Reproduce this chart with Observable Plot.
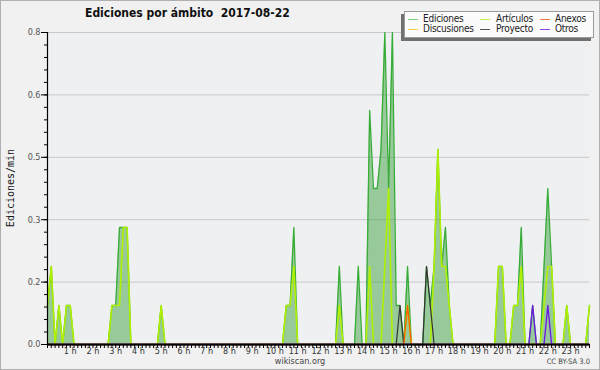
<!DOCTYPE html>
<html><head><meta charset="utf-8">
<script src="https://cdn.jsdelivr.net/npm/d3@7"></script>
<script src="https://cdn.jsdelivr.net/npm/@observablehq/plot@0.6"></script>
<style>
html,body{margin:0;padding:0;background:#f1f1f1;}
#wrap{position:relative;width:600px;height:370px;overflow:hidden;font-family:"DejaVu Sans Condensed","DejaVu Sans",sans-serif;font-stretch:condensed;}
#chart{position:absolute;left:0;top:0;}
#border{position:absolute;left:0;top:0;width:598px;height:368px;border:1px solid #b0b0b0;pointer-events:none;}
#title{position:absolute;left:85px;top:6px;font-size:12px;font-weight:bold;color:#111;white-space:pre;}
#ylab{position:absolute;left:10px;top:188px;font-family:"DejaVu Sans Mono",monospace;font-stretch:normal;font-size:10px;color:#111;transform:translate(-50%,-50%) rotate(-90deg);white-space:nowrap;}
#legend{position:absolute;left:404px;top:11px;width:188px;height:25px;background:#fbfbfb;border:1px solid #9a9a9a;box-shadow:-3px 3px 0 #707070;}
.li{position:absolute;font-size:10px;letter-spacing:-0.25px;color:#222;white-space:nowrap;line-height:10px;}
.ls{position:absolute;height:1px;width:10px;}
#site{position:absolute;left:300px;top:356px;transform:translateX(-50%);font-size:9px;color:#444;}
#lic{position:absolute;right:10px;top:357px;font-size:7.5px;color:#444;}
</style></head>
<body>
<div id="wrap">
  <div id="chart"></div>
  <div id="title"></div>
  <div id="ylab"></div>
  <div id="legend"></div>
  <div id="site"></div>
  <div id="lic"></div>
  <div id="border"></div>
</div>
<script>
// ---- data: edits per minute, 10-minute bins (144 bins, 00:00 .. 23:50) ----
const titleText = "Ediciones por ámbito  2017-08-22";
const yLabel = "Ediciones/min";
const siteText = "wikiscan.org";
const licText = "CC BY-SA 3.0";

const ediciones = [
  0.1,0.2,0,0.1,0,0.1,   0.1,0,0,0,0,0,
  0,0,0,0,0,0.1,         0.1,0.3,0.3,0.3,0,0,
  0,0,0,0,0,0,           0.1,0,0,0,0,0,
  0,0,0,0,0,0,           0,0,0,0,0,0,
  0,0,0,0,0,0,           0,0,0,0,0,0,
  0,0,0,0.1,0.1,0.3,     0,0,0,0,0,0,
  0,0,0,0,0,0.2,         0,0,0,0,0.2,0,
  0,0.6,0.4,0.4,0.5,0.8, 0.4,0.8,0.1,0.1,0,0.2,
  0,0,0,0,0.2,0.1,       0.2,0.5,0.2,0.3,0.1,0,
  0,0,0,0,0,0,           0,0,0,0,0,0.2,
  0.2,0,0,0.1,0.1,0.3,   0,0,0.1,0,0,0.2,
  0.4,0.2,0,0,0,0.1,     0,0,0,0,0,0.1
];
const articulos = [
  0.1,0.2,0,0.1,0,0.1,   0.1,0,0,0,0,0,
  0,0,0,0,0,0.1,         0.1,0.1,0.3,0.3,0,0,
  0,0,0,0,0,0,           0.1,0,0,0,0,0,
  0,0,0,0,0,0,           0,0,0,0,0,0,
  0,0,0,0,0,0,           0,0,0,0,0,0,
  0,0,0,0.1,0.1,0.2,     0,0,0,0,0,0,
  0,0,0,0,0,0.1,         0,0,0,0,0,0,
  0,0.2,0,0,0,0.2,       0.4,0,0,0,0,0.1,
  0,0,0,0,0,0,           0.2,0.5,0.2,0.2,0.1,0,
  0,0,0,0,0,0,           0,0,0,0,0,0.2,
  0.2,0,0,0.1,0.1,0.2,   0,0,0,0,0,0.1,
  0.2,0.2,0,0,0,0.1,     0,0,0,0,0,0.1
];
const discusiones = [
  0,0,0,0,0,0, 0,0,0,0,0,0,  0,0,0,0,0,0, 0,0,0,0,0,0,
  0,0,0,0,0,0, 0,0,0,0,0,0,  0,0,0,0,0,0, 0,0,0,0,0,0,
  0,0,0,0,0,0, 0,0,0,0,0,0,  0,0,0,0,0,0, 0,0,0,0,0,0,
  0,0,0,0,0,0, 0,0,0,0,0,0,  0,0,0,0,0,0, 0,0,0,0,0,0,
  0,0,0,0,0,0, 0,0,0,0,0,0,  0,0,0,0,0,0, 0,0,0,0,0,0,
  0,0,0,0,0,0, 0,0,0,0,0,0,  0,0,0,0,0,0, 0,0,0,0,0,0
];
const proyecto = [
  0,0,0,0,0,0, 0,0,0,0,0,0,  0,0,0,0,0,0, 0,0,0,0,0,0,
  0,0,0,0,0,0, 0,0,0,0,0,0,  0,0,0,0,0,0, 0,0,0,0,0,0,
  0,0,0,0,0,0, 0,0,0,0,0,0,  0,0,0,0,0,0, 0,0,0,0,0,0,
  0,0,0,0,0,0, 0,0,0,0,0,0,  0,0,0,0,0,0, 0,0,0,0.1,0,0,
  0,0,0,0,0.2,0.1, 0,0,0,0,0,0,  0,0,0,0,0,0, 0,0,0,0,0,0,
  0,0,0,0,0,0, 0,0,0,0,0,0,  0,0,0,0,0,0, 0,0,0,0,0,0
];
const anexos = [
  0,0,0,0,0,0, 0,0,0,0,0,0,  0,0,0,0,0,0, 0,0,0,0,0,0,
  0,0,0,0,0,0, 0,0,0,0,0,0,  0,0,0,0,0,0, 0,0,0,0,0,0,
  0,0,0,0,0,0, 0,0,0,0,0,0,  0,0,0,0,0,0, 0,0,0,0,0,0,
  0,0,0,0,0,0, 0,0,0,0,0,0,  0,0,0,0,0,0, 0,0,0,0,0,0.1,
  0,0,0,0,0,0, 0,0,0,0,0,0,  0,0,0,0,0,0, 0,0,0,0,0,0,
  0,0,0,0,0,0, 0,0,0,0,0,0,  0,0,0,0,0,0, 0,0,0,0,0,0
];
const otros = [
  0,0,0,0,0,0, 0,0,0,0,0,0,  0,0,0,0,0,0, 0,0,0,0,0,0,
  0,0,0,0,0,0, 0,0,0,0,0,0,  0,0,0,0,0,0, 0,0,0,0,0,0,
  0,0,0,0,0,0, 0,0,0,0,0,0,  0,0,0,0,0,0, 0,0,0,0,0,0,
  0,0,0,0,0,0, 0,0,0,0,0,0,  0,0,0,0,0,0, 0,0,0,0,0,0,
  0,0,0,0,0,0, 0,0,0,0,0,0,  0,0,0,0,0,0, 0,0,0,0,0,0,
  0,0,0,0,0,0, 0,0,0.1,0,0,0,  0.1,0,0,0,0,0, 0,0,0,0,0,0
];

const yTicks = [0, 0.16, 0.32, 0.48, 0.64, 0.8];
const yTickLabels = ["0.0", "0.2", "0.3", "0.5", "0.6", "0.8"];
const hourBins = [6,12,18,24,30,36,42,48,54,60,66,72,78,84,90,96,102,108,114,120,126,132,138];
const hourLabels = ["1 h","2 h","3 h","4 h","5 h","6 h","7 h","8 h","9 h","10 h","11 h","12 h",
  "13 h","14 h","15 h","16 h","17 h","18 h","19 h","20 h","21 h","22 h","23 h"];

const legendNames = ["Ediciones","Discusiones","Artículos","Proyecto","Anexos","Otros"];
const legendColors = ["#7fcb7f","#ffd040","#c6ee4e","#555555","#ef7a44","#9344ee"];

// ---- build ----
const rows = ediciones.map((v, i) => ({bin: i, ed: v, art: articulos[i], dis: discusiones[i],
  pro: proyecto[i], anx: anexos[i], otr: otros[i]}));
const yMinor = d3.range(0, 0.8001, 0.032);
const allBins = rows.map(r => r.bin);
const yLabMap = new Map(yTicks.map((t, i) => [t, yTickLabels[i]]));
const hLabMap = new Map(hourBins.map((b, i) => [b, hourLabels[i]]));

const chart = Plot.plot({
  width: 600, height: 370,
  marginLeft: 47, marginRight: 11, marginTop: 32, marginBottom: 26,
  x: {domain: [0, 143], axis: null},
  y: {domain: [0, 0.8], axis: null},
  style: {background: "transparent", fontFamily: "'DejaVu Sans Condensed','DejaVu Sans',sans-serif", fontStretch: "condensed", fontSize: "9px"},
  marks: [
    Plot.frame({fill: "#eef0f2", stroke: null}),
    Plot.ruleY(yTicks.slice(1), {stroke: "#c8c8c8"}),
    Plot.areaY(rows, {x: "bin", y: "ed", fill: "#2e9a2e", fillOpacity: 0.45}),
    Plot.lineY(rows, {x: "bin", y: "ed", stroke: "#37ac37", strokeWidth: 1.3}),
    Plot.lineY(rows, {x: "bin", y: "dis", stroke: "#ffcc22", strokeWidth: 1.2}),
    Plot.lineY(rows, {x: "bin", y: "art", stroke: "#b0f000", strokeWidth: 1.6}),
    Plot.lineY(rows, {x: "bin", y: "pro", stroke: "#333333", strokeWidth: 1.2}),
    Plot.lineY(rows, {x: "bin", y: "anx", stroke: "#ff5a00", strokeWidth: 1.3}),
    Plot.lineY(rows, {x: "bin", y: "otr", stroke: "#6a14e6", strokeWidth: 1.3}),
    Plot.axisY(yMinor, {tickSize: 3, tickFormat: () => "", label: null, stroke: "#000"}),
    Plot.axisY(yTicks, {tickSize: 6, tickPadding: 1, tickFormat: d => yLabMap.get(d), label: null, stroke: "#000", fill: "#555"}),
    Plot.axisX(allBins, {tickSize: 4, tickFormat: () => "", label: null, stroke: "#000"}),
    Plot.axisX(hourBins, {tickSize: 0, tickPadding: 3, tickFormat: d => hLabMap.get(d), label: null, fill: "#333"}),
    Plot.ruleX([0], {stroke: "#000", strokeWidth: 1.2}),
    Plot.ruleY([0], {stroke: "#000", strokeWidth: 2.2})
  ]
});
document.getElementById("chart").appendChild(chart);

document.getElementById("title").textContent = titleText;
document.getElementById("ylab").textContent = yLabel;
document.getElementById("site").textContent = siteText;
document.getElementById("lic").textContent = licText;

const lg = document.getElementById("legend");
const colX = [[3, 18], [75, 91], [135, 150]];
const rowY = [7, 17];
legendNames.forEach((name, i) => {
  const c = Math.floor(i / 2), r = i % 2;
  const s = document.createElement("div");
  s.className = "ls";
  s.style.left = colX[c][0] + "px";
  s.style.top = rowY[r] + "px";
  s.style.background = legendColors[i];
  lg.appendChild(s);
  const t = document.createElement("div");
  t.className = "li";
  t.style.left = colX[c][1] + "px";
  t.style.top = (rowY[r] - 5) + "px";
  t.textContent = name;
  lg.appendChild(t);
});
</script>
</body></html>
